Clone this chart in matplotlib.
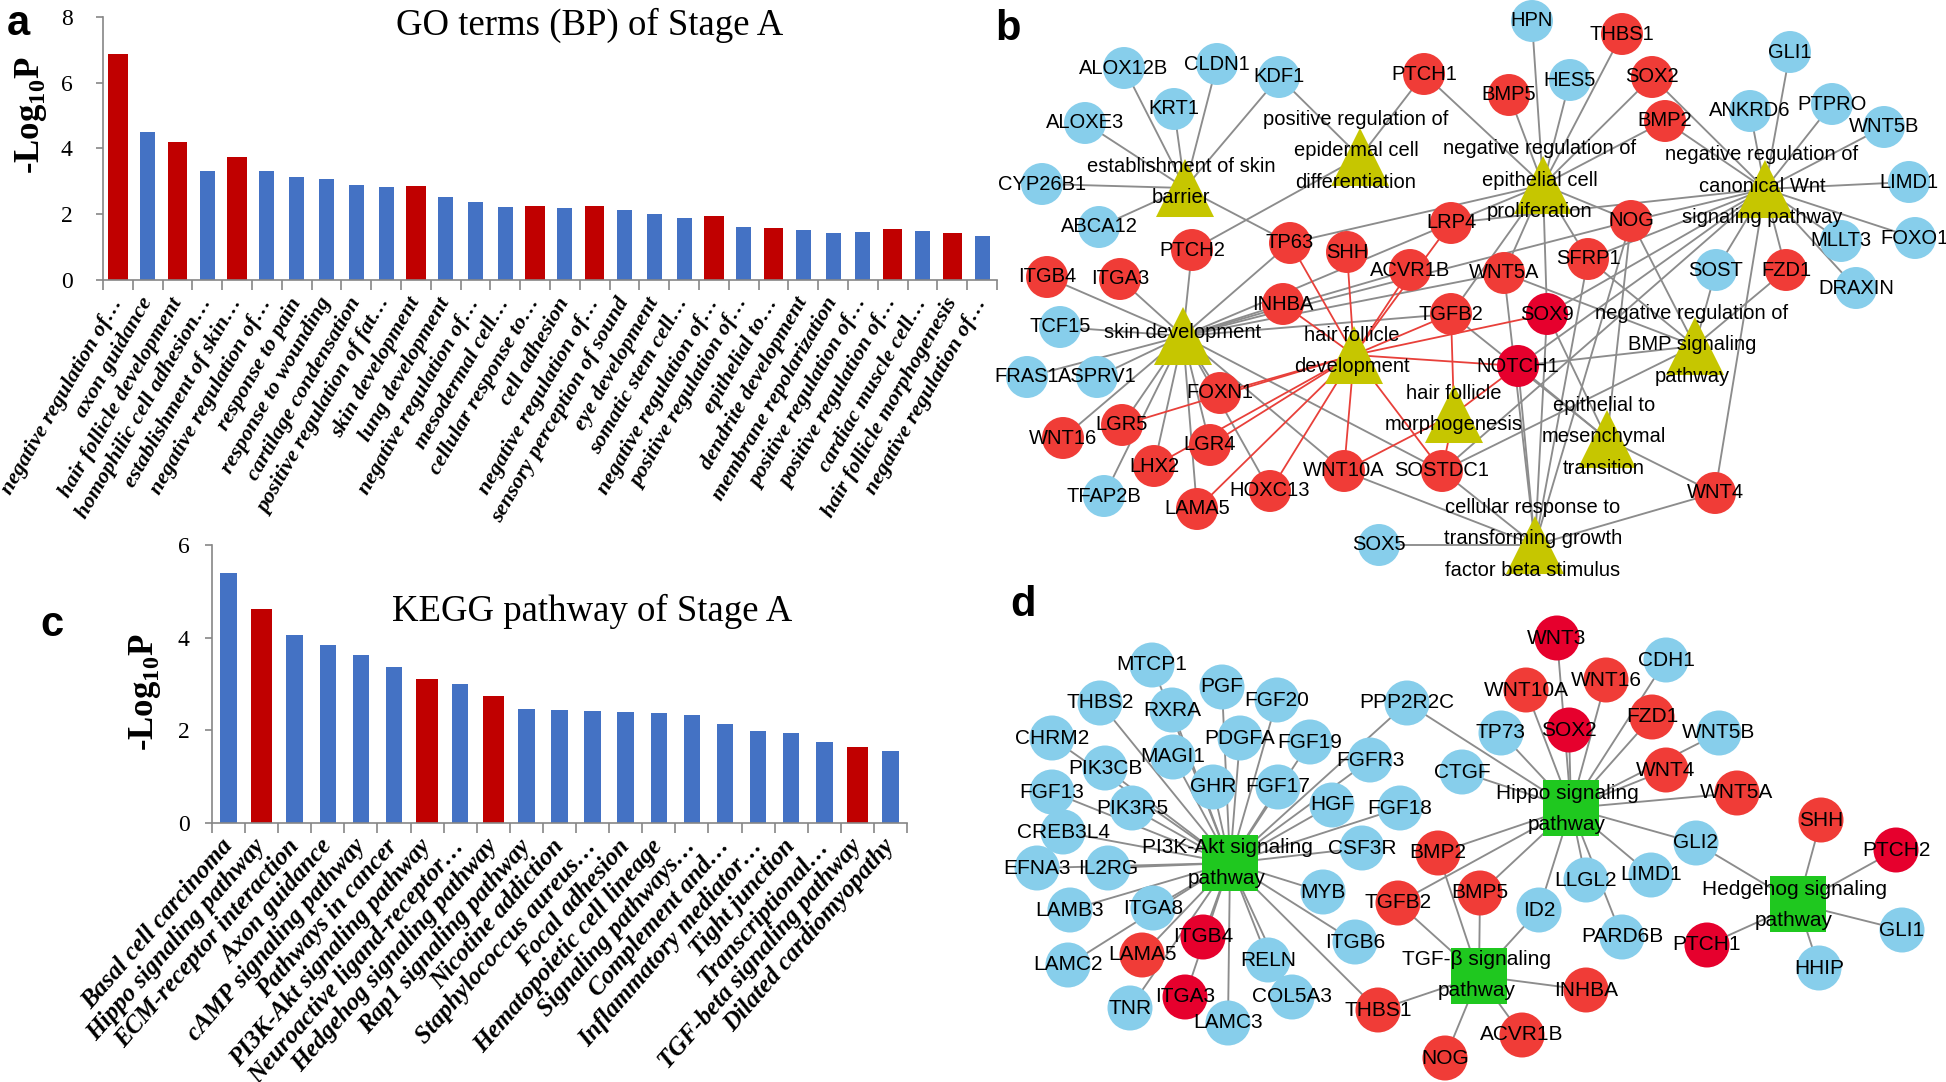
import numpy as np
import matplotlib
matplotlib.use("Agg")
import matplotlib.pyplot as plt
from matplotlib.transforms import ScaledTranslation

plt.rcParams['mathtext.fontset'] = 'custom'
plt.rcParams['mathtext.rm'] = 'Liberation Serif:bold'
plt.rcParams['mathtext.bf'] = 'Liberation Serif:bold'

W, H = 1946, 1082

# ---- panel a: GO terms (BP) ----
go_terms = ['negative regulation of…', 'axon guidance', 'hair follicle development',
            'homophilic cell adhesion…', 'establishment of skin…', 'negative regulation of…',
            'response to pain', 'response to wounding', 'cartilage condensation',
            'positive regulation of fat…', 'skin development', 'lung development',
            'negative regulation of…', 'mesodermal cell…', 'cellular response to…',
            'cell adhesion', 'negative regulation of…', 'sensory perception of sound',
            'eye development', 'somatic stem cell…', 'negative regulation of…',
            'positive regulation of…', 'epithelial to…', 'dendrite development',
            'membrane repolarization', 'positive regulation of…', 'positive regulation of…',
            'cardiac muscle cell…', 'hair follicle morphogenesis', 'negative regulation of…']
go_vals = [6.88, 4.49, 4.19, 3.31, 3.75, 3.31, 3.13, 3.06, 2.88, 2.81, 2.85, 2.52, 2.38,
           2.20, 2.24, 2.17, 2.24, 2.12, 2.01, 1.88, 1.93, 1.60, 1.57, 1.51, 1.41, 1.45,
           1.54, 1.48, 1.41, 1.33]
go_red = [1, 0, 1, 0, 1, 0, 0, 0, 0, 0, 1, 0, 0, 0, 1, 0, 1, 0, 0, 0, 1, 0, 1, 0, 0, 0, 1, 0, 1, 0]

# ---- panel c: KEGG ----
kegg_terms = ['Basal cell carcinoma', 'Hippo signaling pathway', 'ECM-receptor interaction',
              'Axon guidance', 'cAMP signaling pathway', 'Pathways in cancer',
              'PI3K-Akt signaling pathway', 'Neuroactive ligand-receptor…',
              'Hedgehog signaling pathway', 'Rap1 signaling pathway', 'Nicotine addiction',
              'Staphylococcus aureus…', 'Focal adhesion', 'Hematopoietic cell lineage',
              'Signaling pathways…', 'Complement and…', 'Inflammatory mediator…',
              'Tight junction', 'Transcriptional…', 'TGF-beta signaling pathway',
              'Dilated cardiomyopathy']
kegg_vals = [5.40, 4.63, 4.06, 3.84, 3.62, 3.36, 3.10, 3.00, 2.74, 2.46, 2.43, 2.41, 2.39,
             2.37, 2.33, 2.13, 1.98, 1.94, 1.74, 1.63, 1.55]
kegg_red = [0, 1, 0, 0, 0, 0, 1, 0, 1, 0, 0, 0, 0, 0, 0, 0, 0, 0, 0, 1, 0]

# ---- panel b: GO network (layout in picture pixels) ----
b_genes = {
    'ALOX12B': (1124, 68), 'CLDN1': (1217, 64), 'KDF1': (1279, 77), 'KRT1': (1174, 109),
    'ALOXE3': (1085, 123), 'CYP26B1': (1042, 184), 'ABCA12': (1099, 227), 'PTCH2': (1192, 250),
    'TP63': (1290, 243), 'SHH': (1347, 252), 'LRP4': (1451, 223), 'ACVR1B': (1410, 270),
    'INHBA': (1283, 304), 'TGFB2': (1451, 314), 'ITGB4': (1047, 277), 'ITGA3': (1120, 279),
    'TCF15': (1060, 327), 'FRAS1': (1027, 377), 'ASPRV1': (1097, 377), 'FOXN1': (1220, 393),
    'LGR5': (1122, 425), 'WNT16': (1063, 438), 'LGR4': (1210, 445), 'LHX2': (1154, 466),
    'TFAP2B': (1104, 496), 'LAMA5': (1197, 509), 'HOXC13': (1270, 491), 'WNT10A': (1344, 471),
    'SOSTDC1': (1442, 471), 'SOX5': (1379, 545), 'HPN': (1532, 21), 'THBS1': (1622, 34),
    'PTCH1': (1424, 74), 'BMP5': (1509, 95), 'HES5': (1570, 80), 'SOX2': (1652, 77),
    'BMP2': (1665, 121), 'GLI1': (1790, 52), 'ANKRD6': (1750, 111), 'PTPRO': (1832, 104),
    'WNT5B': (1884, 127), 'LIMD1': (1909, 182), 'FOXO1': (1915, 238), 'MLLT3': (1841, 241),
    'DRAXIN': (1856, 288), 'SOST': (1716, 270), 'FZD1': (1786, 270), 'NOG': (1631, 221),
    'SFRP1': (1588, 259), 'WNT5A': (1504, 273), 'SOX9': (1547, 314), 'NOTCH1': (1518, 366),
    'WNT4': (1715, 493)}
b_red = ['PTCH2', 'TP63', 'SHH', 'LRP4', 'ACVR1B', 'INHBA', 'TGFB2', 'ITGB4', 'ITGA3',
         'FOXN1', 'LGR5', 'WNT16', 'LGR4', 'LHX2', 'LAMA5', 'HOXC13', 'WNT10A', 'SOSTDC1',
         'THBS1', 'PTCH1', 'BMP5', 'SOX2', 'BMP2', 'FZD1', 'NOG', 'SFRP1', 'WNT5A', 'WNT4']
b_dark = ['SOX9', 'NOTCH1']

b_terms = {
    'barrier': (1185, 188), 'epid': (1360, 157), 'skin': (1183, 336), 'hfd': (1354, 355),
    'hfm': (1454, 414), 'epi': (1543, 185), 'wnt': (1765, 189), 'bmp': (1695, 346),
    'emt': (1607, 439), 'tgf': (1535, 545)}
b_term_text = {
    'barrier': (['establishment of skin', 'barrier'], (1181, 182)),
    'epid': (['positive regulation of', 'epidermal cell', 'differentiation'], (1356, 151)),
    'skin': (['skin development'], (1183, 332)),
    'hfd': (['hair follicle', 'development'], (1352, 351)),
    'hfm': (['hair follicle', 'morphogenesis'], (1454, 409)),
    'epi': (['negative regulation of', 'epithelial cell', 'proliferation'], (1540, 180)),
    'wnt': (['negative regulation of', 'canonical Wnt', 'signaling pathway'], (1762, 186)),
    'bmp': (['negative regulation of', 'BMP signaling', 'pathway'], (1692, 345)),
    'emt': (['epithelial to', 'mesenchymal', 'transition'], (1604, 437)),
    'tgf': (['cellular response to', 'transforming growth', 'factor beta stimulus'], (1533, 539))}
b_edges = {
    'barrier': ['ALOX12B', 'CLDN1', 'KDF1', 'KRT1', 'ALOXE3', 'CYP26B1', 'ABCA12', 'TP63'],
    'epid': ['KDF1', 'PTCH1', 'PTCH2'],
    'skin': ['ITGB4', 'ITGA3', 'PTCH2', 'TCF15', 'FRAS1', 'ASPRV1', 'WNT16', 'LGR5', 'TFAP2B',
             'LHX2', 'LAMA5', 'LGR4', 'FOXN1', 'HOXC13', 'TP63', 'INHBA', 'ACVR1B', 'LRP4',
             'WNT5A', 'TGFB2', 'WNT10A', 'SOSTDC1', 'NOG'],
    'epi': ['HPN', 'BMP5', 'HES5', 'SOX2', 'BMP2', 'PTCH1', 'THBS1', 'LRP4', 'NOG', 'SFRP1',
            'WNT5A', 'SOX9', 'TGFB2', 'TP63'],
    'wnt': ['GLI1', 'ANKRD6', 'PTPRO', 'WNT5B', 'LIMD1', 'FOXO1', 'MLLT3', 'DRAXIN', 'SOST',
            'FZD1', 'WNT4', 'SOX2', 'BMP2', 'NOG', 'SFRP1', 'LRP4', 'SOSTDC1', 'NOTCH1', 'SOX9'],
    'bmp': ['SOST', 'FZD1', 'NOG', 'SFRP1', 'WNT5A', 'NOTCH1', 'SOSTDC1'],
    'emt': ['NOTCH1', 'SOX9', 'WNT4', 'NOG', 'TGFB2'],
    'tgf': ['SOX5', 'WNT10A', 'WNT4', 'NOTCH1', 'SOX9', 'SFRP1', 'NOG', 'WNT5A', 'SOSTDC1'],
}
b_red_edges = {
    'hfd': ['SHH', 'TP63', 'INHBA', 'ACVR1B', 'LRP4', 'TGFB2', 'SOX9', 'NOTCH1', 'FOXN1',
            'LGR5', 'LGR4', 'LHX2', 'LAMA5', 'HOXC13', 'WNT10A', 'SOSTDC1'],
    'hfm': ['TGFB2', 'NOTCH1', 'SOSTDC1', 'WNT10A'],
}

# ---- panel d: KEGG network ----
d_genes = {
    'MTCP1': (1152, 665), 'PGF': (1222, 687), 'FGF20': (1277, 700), 'THBS2': (1100, 703),
    'RXRA': (1172, 710), 'PPP2R2C': (1407, 703), 'CHRM2': (1052, 738), 'PDGFA': (1240, 738),
    'FGF19': (1310, 742), 'MAGI1': (1173, 757), 'PIK3CB': (1105, 768), 'FGFR3': (1370, 760),
    'CTGF': (1462, 772), 'GHR': (1213, 787), 'FGF17': (1278, 787), 'FGF13': (1052, 792),
    'PIK3R5': (1132, 808), 'HGF': (1332, 805), 'FGF18': (1400, 808), 'CREB3L4': (1063, 832),
    'CSF3R': (1362, 848), 'BMP2': (1438, 853), 'EFNA3': (1037, 868), 'IL2RG': (1108, 868),
    'MYB': (1323, 892), 'TGFB2': (1398, 903), 'BMP5': (1480, 893), 'LAMB3': (1070, 910),
    'ITGA8': (1153, 908), 'ITGB4': (1203, 937), 'LAMA5': (1142, 955), 'LAMC2': (1068, 965),
    'ITGB6': (1355, 942), 'RELN': (1268, 960), 'COL5A3': (1292, 997), 'ITGA3': (1185, 997),
    'TNR': (1130, 1008), 'LAMC3': (1228, 1023), 'THBS1': (1378, 1010), 'NOG': (1445, 1058),
    'WNT3': (1557, 638), 'CDH1': (1666, 660), 'WNT10A': (1526, 690), 'WNT16': (1606, 680),
    'TP73': (1501, 733), 'SOX2': (1569, 730), 'FZD1': (1652, 717), 'WNT5B': (1719, 733),
    'WNT4': (1666, 770), 'WNT5A': (1737, 793), 'SHH': (1821, 820), 'PTCH2': (1896, 850),
    'GLI2': (1696, 843), 'LLGL2': (1586, 880), 'LIMD1': (1651, 875), 'ID2': (1539, 910),
    'PARD6B': (1622, 937), 'PTCH1': (1707, 945), 'GLI1': (1902, 930), 'HHIP': (1819, 968),
    'INHBA': (1586, 990), 'ACVR1B': (1522, 1035)}
d_red = ['BMP2', 'TGFB2', 'BMP5', 'LAMA5', 'THBS1', 'NOG', 'WNT10A', 'WNT16', 'FZD1', 'WNT4',
         'WNT5A', 'SHH', 'INHBA', 'ACVR1B']
d_dark = ['WNT3', 'SOX2', 'ITGB4', 'ITGA3', 'PTCH1', 'PTCH2']

d_hubs = {'pi3k': (1230, 863), 'hippo': (1571, 808), 'tgfb': (1479, 976), 'hh': (1798, 904)}
d_hub_text = {
    'pi3k': (['PI3K-Akt signaling', 'pathway'], (1227, 863)),
    'hippo': (['Hippo signaling', 'pathway'], (1567, 809)),
    'tgfb': (['TGF-β signaling', 'pathway'], (1477, 975)),
    'hh': (['Hedgehog signaling', 'pathway'], (1794, 905))}
d_edges = {
    'pi3k': ['MTCP1', 'PGF', 'FGF20', 'THBS2', 'RXRA', 'PPP2R2C', 'CHRM2', 'PDGFA', 'FGF19',
             'MAGI1', 'PIK3CB', 'FGFR3', 'GHR', 'FGF17', 'FGF13', 'PIK3R5', 'HGF', 'FGF18',
             'CREB3L4', 'CSF3R', 'EFNA3', 'IL2RG', 'MYB', 'LAMB3', 'ITGA8', 'ITGB4', 'LAMA5',
             'LAMC2', 'ITGB6', 'RELN', 'COL5A3', 'ITGA3', 'TNR', 'LAMC3', 'THBS1'],
    'hippo': ['PPP2R2C', 'WNT3', 'CDH1', 'WNT10A', 'WNT16', 'TP73', 'SOX2', 'FZD1', 'WNT5B',
              'WNT4', 'WNT5A', 'CTGF', 'GLI2', 'LLGL2', 'LIMD1', 'PARD6B', 'ID2', 'BMP2',
              'BMP5', 'TGFB2'],
    'tgfb': ['BMP2', 'TGFB2', 'BMP5', 'ID2', 'THBS1', 'INHBA', 'ACVR1B', 'NOG'],
    'hh': ['GLI2', 'SHH', 'PTCH2', 'PTCH1', 'GLI1', 'HHIP'],
}

BLUE_BAR = '#4472C4'
RED_BAR = '#C00000'
NODE_BLUE = '#87CEEB'
NODE_RED = '#F03C37'
NODE_DARK = '#E6002D'
TRI = '#C6C600'
SQ = '#1FC81F'
EDGE = '#8C8C8C'
EDGE_RED = '#E8403A'
AXIS_GRAY = '#868686'


def fx(px):
    return px / W


def fy(py):
    return 1 - py / H


fig = plt.figure(figsize=(W / 100, H / 100), dpi=100)

# ---- networks share one full-size axes in pixel coordinates ----
net = fig.add_axes([0, 0, 1, 1])
net.set_xlim(0, W)
net.set_ylim(H, 0)
net.axis('off')


def draw_network(genes, hubs, edges, red_edges, reds, darks, hub_marker, hub_color,
                 hub_size, node_size, labels, fs):
    for hub, members in edges.items():
        for g in members:
            net.plot([hubs[hub][0], genes[g][0]], [hubs[hub][1], genes[g][1]],
                     color=EDGE, lw=1.35, zorder=1, solid_capstyle='butt')
    for hub, members in red_edges.items():
        for g in members:
            net.plot([hubs[hub][0], genes[g][0]], [hubs[hub][1], genes[g][1]],
                     color=EDGE_RED, lw=1.3, zorder=1.5)
    names = list(genes)
    cols = [NODE_DARK if n in darks else NODE_RED if n in reds else NODE_BLUE for n in names]
    net.scatter([genes[n][0] for n in names], [genes[n][1] for n in names], s=node_size,
                c=cols, edgecolors='none', zorder=2)
    net.scatter([p[0] for p in hubs.values()], [p[1] for p in hubs.values()], s=hub_size,
                c=hub_color, marker=hub_marker, edgecolors='none', zorder=2)
    for n in names:
        net.text(genes[n][0], genes[n][1], n, ha='center', va='center', fontsize=fs,
                 family='Liberation Sans', zorder=3)
    for key, (lines, (cx, cy)) in labels.items():
        step = 31.5
        for i, line in enumerate(lines):
            net.text(cx, cy + (i - (len(lines) - 1) / 2) * step, line, ha='center',
                     va='center', fontsize=fs, family='Liberation Sans', zorder=3)


draw_network(b_genes, b_terms, b_edges, b_red_edges, b_red, b_dark, '^', TRI, 1745, 913,
             b_term_text, 14.5)
draw_network(d_genes, d_hubs, d_edges, {}, d_red, d_dark, 's', SQ, 1625, 1050,
             d_hub_text, 15)


# ---- bar charts ----
def bar_panel(rect, terms, vals, reds, ymax, rot, lab_fs, pad):
    ax = fig.add_axes(rect)
    ax.set_facecolor('none')
    x = np.arange(len(terms))
    widths = [0.65 if r else 0.5 for r in reds]
    colors = [RED_BAR if r else BLUE_BAR for r in reds]
    ax.bar(x, vals, width=widths, color=colors, zorder=2)
    ax.set_xlim(-0.5, len(terms) - 0.5)
    ax.set_ylim(0, ymax)
    ax.set_yticks(np.arange(0, ymax + 1, 2))
    ax.set_yticklabels([str(v) for v in range(0, ymax + 1, 2)], family='Liberation Serif',
                       fontsize=17)
    ax.set_xticks(x)
    ax.set_xticklabels(terms, rotation=rot, ha='right', va='center', rotation_mode='anchor',
                       family='Liberation Serif', fontweight='bold', style='italic',
                       fontsize=lab_fs)
    ax.set_xticks(np.arange(-0.5, len(terms)), minor=True)
    ax.tick_params(axis='x', which='major', length=0, pad=14)
    ax.tick_params(axis='x', which='minor', length=7, color=AXIS_GRAY, width=1.2)
    ax.tick_params(axis='y', length=5, color=AXIS_GRAY, width=1.2, pad=pad)
    for s in ['top', 'right']:
        ax.spines[s].set_visible(False)
    for s in ['left', 'bottom']:
        ax.spines[s].set_color(AXIS_GRAY)
        ax.spines[s].set_linewidth(1.2)
    return ax


bar_panel([fx(103), fy(279.6), (997 - 103) / W, (279.6 - 17.2) / H], go_terms, go_vals,
          go_red, 8, 60, 16, 17)
bar_panel([fx(212), fy(822.8), (907 - 212) / W, (822.8 - 545.2) / H], kegg_terms, kegg_vals,
          kegg_red, 6, 49, 18, 11)

# titles and axis labels
fig.text(fx(590), fy(25), 'GO terms (BP) of Stage A', ha='center', va='center',
         family='Liberation Serif', fontsize=26.5)
fig.text(fx(592), fy(611), 'KEGG pathway of Stage A', ha='center', va='center',
         family='Liberation Serif', fontsize=26.5)
for (lx, ly) in [(31, 115), (145, 692)]:
    fig.text(fx(lx), fy(ly), r'-Log$_{10}$P', rotation=90, ha='center', va='center',
             family='Liberation Serif', fontweight='bold', fontsize=25)

# panel letters
for letter, (lx, ly) in {'a': (18, 24), 'b': (1008, 29), 'c': (52, 625), 'd': (1023, 605)}.items():
    fig.text(fx(lx), fy(ly), letter, ha='center', va='center', family='Liberation Sans',
             fontweight='bold', fontsize=30)

fig.savefig('out.png', dpi=100)
